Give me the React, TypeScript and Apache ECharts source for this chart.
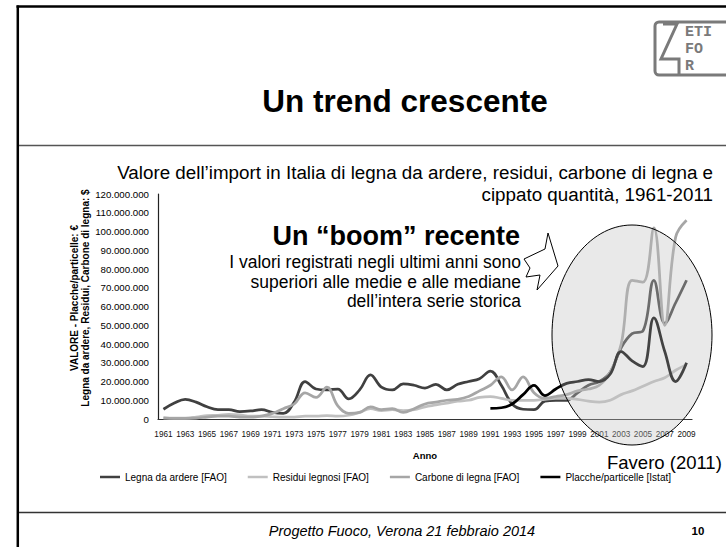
import React, { useEffect, useRef } from 'react';
import * as echarts from 'echarts';

const years = [
  '1961', '1962', '1963', '1964', '1965', '1966', '1967', '1968', '1969', '1970',
  '1971', '1972', '1973', '1974', '1975', '1976', '1977', '1978', '1979', '1980',
  '1981', '1982', '1983', '1984', '1985', '1986', '1987', '1988', '1989', '1990',
  '1991', '1992', '1993', '1994', '1995', '1996', '1997', '1998', '1999', '2000',
  '2001', '2002', '2003', '2004', '2005', '2006', '2007', '2008', '2009',
];

// values in millions
const legnaDaArdere = [
  5.2, 8.5, 10.5, 9, 6.5, 5, 5, 4, 4.3, 5,
  3.5, 3, 9, 20, 16, 15.5, 16, 10.7, 15.5, 23.5,
  17, 15.5, 18.7, 18, 16.5, 18.5, 15.5, 18.5, 20, 21.5,
  25.5, 18, 8, 5.2, 5, 9.5, 10, 10, 14, 18,
  20, 25, 38, 45.5, 47, 74, 51, 62, 74,
];

const residuiLegnosi = [
  0.8, 0.5, 0.5, 1, 1.8, 2, 2.5, 2.2, 1.5, 1.5,
  1.2, 1, 1, 1.5, 1.5, 1.8, 1.5, 2, 3.5, 5.5,
  4.5, 5, 4.5, 5, 6.5, 7.5, 8.5, 9.5, 10, 11.5,
  12, 11, 10, 10, 10, 10.5, 11, 11, 10.5, 9.5,
  9, 10, 13, 15, 17.5, 20, 22, 26, 29,
];

const carboneDiLegna = [
  0.5, 0.3, 0.3, 0.5, 1, 1.5, 1.5, 1, 1, 1.5,
  3, 5.5, 8, 14, 11.5, 17, 7, 3, 3.5, 6.5,
  5, 5.5, 3.5, 5.5, 8, 9, 10, 10.5, 12, 15,
  18, 22.5, 15.5, 22.5, 14, 11, 12, 13, 15, 16,
  18, 25, 40, 74, 73, 102, 50, 97, 106,
];

const placcheParticelle = [
  null, null, null, null, null, null, null, null, null, null,
  null, null, null, null, null, null, null, null, null, null,
  null, null, null, null, null, null, null, null, null, null,
  5.7, 6, 8, 13, 18, 12.5, 16, 19, 20, 21,
  20, 24, 36, 31, 28, 54, 36, 20, 30,
];

const seriesNames = [
  'Legna da ardere [FAO]',
  'Residui legnosi [FAO]',
  'Carbone di legna [FAO]',
  'Placche/particelle [Istat]',
];
const seriesColors = ['#404040', '#c0c0c0', '#a6a6a6', '#000000'];

const yMax = 120;
const yStep = 10;

const FONT = '"Liberation Sans", Arial, Helvetica, sans-serif';

function fmt(v: number): string {
  const n = Math.round(v * 1000000);
  return String(n).replace(/\B(?=(\d{3})+(?!\d))/g, '.');
}

export default function App() {
  const ref = useRef<HTMLDivElement>(null);

  useEffect(() => {
    if (!ref.current) return;
    const chart = echarts.init(ref.current, null, { renderer: 'svg' });
    const dataSets = [legnaDaArdere, residuiLegnosi, carboneDiLegna, placcheParticelle];
    const grey = '#7a7a7a';
    const LOGO_FONT = `bold 15px "Liberation Mono", monospace`;

    chart.setOption({
      animation: false,
      backgroundColor: '#ffffff',
      textStyle: { fontFamily: FONT },
      grid: { left: 158, right: 34, top: 194, bottom: 128, containLabel: false },
      legend: {
        data: seriesNames,
        left: 100,
        top: 472,
        icon: 'rect',
        itemWidth: 20,
        itemHeight: 2.5,
        itemGap: 21,
        padding: 0,
        textStyle: { fontSize: 10, color: '#000', fontFamily: FONT },
      },
      xAxis: {
        type: 'category',
        data: years,
        boundaryGap: true,
        axisLine: { lineStyle: { color: '#333', width: 1.2 } },
        axisTick: { show: false },
        axisLabel: { interval: 1, fontSize: 8.2, color: '#111', margin: 11, fontFamily: FONT },
      },
      yAxis: {
        type: 'value',
        min: 0,
        max: yMax,
        interval: yStep,
        axisLine: { show: true, lineStyle: { color: '#222', width: 1.2 } },
        axisTick: { show: false },
        splitLine: { show: false },
        axisLabel: { fontSize: 9.7, color: '#000', margin: 9, fontFamily: FONT, formatter: (v: number) => fmt(v) },
      },
      series: seriesNames.map((name, i) => ({
        name,
        type: 'line',
        data: dataSets[i],
        smooth: 0.4,
        symbol: 'none',
        connectNulls: false,
        lineStyle: { color: seriesColors[i], width: 2.75 },
        itemStyle: { color: seriesColors[i] },
        z: 2 + (i === 3 ? 1 : 0),
      })),
      graphic: [
        // slide frame
        { type: 'line', z: 50, shape: { x1: 16.5, y1: 6.5, x2: 726, y2: 6.5 }, style: { stroke: '#000', lineWidth: 2.5 } },
        { type: 'line', z: 50, shape: { x1: 17.8, y1: 5.5, x2: 17.8, y2: 547 }, style: { stroke: '#000', lineWidth: 2.5 } },
        { type: 'line', z: 50, shape: { x1: 19, y1: 145.5, x2: 726, y2: 145.5 }, style: { stroke: '#555', lineWidth: 1.5 } },
        { type: 'line', z: 50, shape: { x1: 19, y1: 512.5, x2: 726, y2: 512.5 }, style: { stroke: '#333', lineWidth: 1.5 } },
        // title
        {
          type: 'text', z: 50, x: 405, y: 101,
          style: { text: 'Un trend crescente', font: `bold 31.5px ${FONT}`, fill: '#000', align: 'center', verticalAlign: 'middle' },
        },
        // subtitle
        {
          type: 'text', z: 50, x: 713, y: 172,
          style: { text: 'Valore dell’import in Italia di legna da ardere, residui, carbone di legna e', font: `18.8px ${FONT}`, fill: '#000', align: 'right', verticalAlign: 'middle' },
        },
        {
          type: 'text', z: 50, x: 713, y: 194,
          style: { text: 'cippato quantità, 1961-2011', font: `18.8px ${FONT}`, fill: '#000', align: 'right', verticalAlign: 'middle' },
        },
        // logo
        {
          type: 'group', z: 50, x: 0, y: 0,
          children: [
            { type: 'rect', shape: { x: 655, y: 22, width: 80, height: 53, r: 4 }, style: { fill: 'none', stroke: grey, lineWidth: 3 } },
            { type: 'polyline', shape: { points: [[663, 24], [677, 24], [661, 59], [679, 59], [679, 75]] }, style: { fill: 'none', stroke: grey, lineWidth: 3 } },
            { type: 'text', x: 685, y: 32, style: { text: 'ETI', font: LOGO_FONT, fill: grey, verticalAlign: 'middle' } },
            { type: 'text', x: 685, y: 49, style: { text: 'FO', font: LOGO_FONT, fill: grey, verticalAlign: 'middle' } },
            { type: 'text', x: 685, y: 66, style: { text: 'R', font: LOGO_FONT, fill: grey, verticalAlign: 'middle' } },
          ],
        },
        // y axis name
        {
          type: 'text', z: 50, x: 74, y: 298, rotation: Math.PI / 2,
          style: { text: 'VALORE - Placche/particelle: €', font: `bold 10px ${FONT}`, fill: '#000', align: 'center', verticalAlign: 'middle' },
        },
        {
          type: 'text', z: 50, x: 85.5, y: 298, rotation: Math.PI / 2,
          style: { text: 'Legna da ardere, Residui, Carbone di legna: $', font: `bold 10px ${FONT}`, fill: '#000', align: 'center', verticalAlign: 'middle' },
        },
        // x axis name
        {
          type: 'text', z: 50, x: 425, y: 455,
          style: { text: 'Anno', font: `bold 9.5px ${FONT}`, fill: '#000', align: 'center', verticalAlign: 'middle' },
        },
        // callout
        {
          type: 'text', z: 50, x: 520, y: 236,
          style: { text: 'Un “boom” recente', font: `bold 27px ${FONT}`, fill: '#000', align: 'right', verticalAlign: 'middle' },
        },
        {
          type: 'text', z: 50, x: 521, y: 262,
          style: { text: 'I valori registrati negli ultimi anni sono', font: `17.5px ${FONT}`, fill: '#000', align: 'right', verticalAlign: 'middle' },
        },
        {
          type: 'text', z: 50, x: 521, y: 282,
          style: { text: 'superiori alle medie e alle mediane', font: `17.5px ${FONT}`, fill: '#000', align: 'right', verticalAlign: 'middle' },
        },
        {
          type: 'text', z: 50, x: 521, y: 300.5,
          style: { text: 'dell’intera serie storica', font: `17.5px ${FONT}`, fill: '#000', align: 'right', verticalAlign: 'middle' },
        },
        {
          type: 'polygon', z: 60,
          shape: { points: [[524, 259], [545, 249], [548, 233], [558, 266], [537, 290], [540, 275], [526, 277], [530, 268]] },
          style: { fill: '#fff', stroke: '#000', lineWidth: 1 },
        },
        // highlight ellipse
        {
          type: 'ellipse', z: 60,
          shape: { cx: 632, cy: 335, rx: 80, ry: 110 },
          style: { fill: 'rgba(191,191,191,0.35)', stroke: '#000', lineWidth: 1 },
        },
        {
          type: 'text', z: 60, x: 607, y: 462,
          style: { text: 'Favero (2011)', font: `18.5px ${FONT}`, fill: '#000', verticalAlign: 'middle' },
        },
        // footer
        {
          type: 'text', z: 50, x: 402, y: 531,
          style: { text: 'Progetto Fuoco, Verona 21 febbraio 2014', font: `italic 14.5px ${FONT}`, fill: '#000', align: 'center', verticalAlign: 'middle' },
        },
        {
          type: 'text', z: 50, x: 698, y: 531,
          style: { text: '10', font: `bold 11.5px ${FONT}`, fill: '#000', align: 'center', verticalAlign: 'middle' },
        },
      ],
    });
    return () => chart.dispose();
  }, []);

  return (
    <div
      ref={ref}
      style={{ position: 'fixed', left: 0, top: 0, width: 726, height: 547, background: '#fff' }}
    />
  );
}
